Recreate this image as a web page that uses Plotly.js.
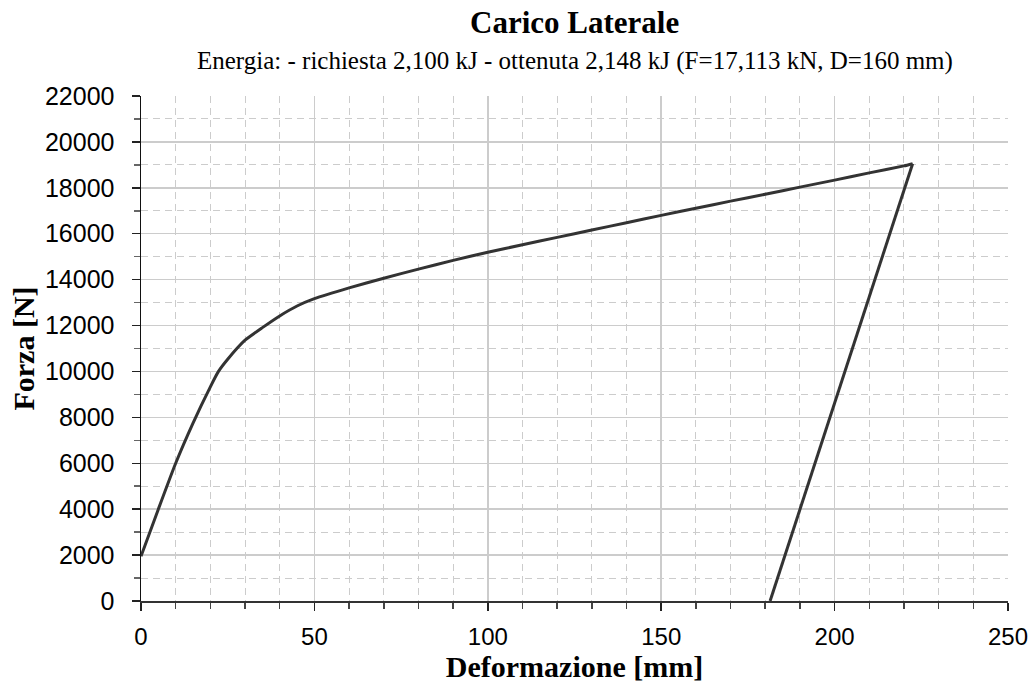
<!DOCTYPE html>
<html><head><meta charset="utf-8">
<script src="https://cdn.plot.ly/plotly-3.0.1.min.js"></script>
<style>html,body{margin:0;padding:0;background:#fff}#c{width:1036px;height:695px}</style>
</head><body><div id="c"></div>
<script>
// Loading branch (deformazione mm, forza N)
var deformazioneCarico = [0, 5, 10, 15, 20, 22.3, 25, 30, 35, 40, 45, 50, 60, 70, 80, 90, 100, 110, 120, 130, 140, 150, 160, 170, 180, 190, 200, 210, 220, 222.5];
var forzaCarico = [1950, 4000, 6000, 7750, 9330, 9990, 10530, 11360, 11910, 12420, 12850, 13170, 13640, 14060, 14460, 14840, 15190, 15520, 15840, 16160, 16480, 16800, 17110, 17420, 17720, 18030, 18335, 18650, 18955, 19050];
// Unloading branch
var deformazioneScarico = [222.5, 181.4];
var forzaScarico = [19050, 0];

var titleText = 'Carico Laterale';
var subtitleText = 'Energia: - richiesta 2,100 kJ - ottenuta 2,148 kJ (F=17,113 kN, D=160 mm)';
var xTitle = 'Deformazione [mm]';
var yTitle = 'Forza [N]';

var data = [
  {x: deformazioneCarico, y: forzaCarico, type: 'scatter', mode: 'lines',
   line: {color: '#333333', width: 3, shape: 'spline', smoothing: 0.5}, hoverinfo: 'skip'},
  {x: deformazioneScarico, y: forzaScarico, type: 'scatter', mode: 'lines',
   line: {color: '#333333', width: 3}, hoverinfo: 'skip'}
];

var gridCol = '#cccccc';
var serif = 'Liberation Serif, Times New Roman, serif';
var sans = 'Liberation Sans, Arial, sans-serif';
var layout = {
  width: 1036, height: 695,
  margin: {l: 141, r: 28, t: 96, b: 94},
  paper_bgcolor: '#ffffff', plot_bgcolor: '#ffffff',
  showlegend: false,
  xaxis: {
    range: [0, 250], dtick: 50, tick0: 0,
    showgrid: true, gridcolor: gridCol, gridwidth: 1.5,
    ticks: 'outside', ticklen: 8, tickcolor: '#222', tickwidth: 1.5,
    ticklabelstandoff: 6,
    showline: true, linecolor: '#333', linewidth: 1.5,
    zeroline: false,
    tickfont: {family: sans, size: 24, color: '#000'},
    minor: {dtick: 10, showgrid: true, gridcolor: gridCol, griddash: '7px,5px', gridwidth: 1, ticks: 'outside', ticklen: 6, tickcolor: '#444'},
    title: {text: '<b>' + xTitle + '</b>', font: {family: serif, size: 30, color: '#000'}, standoff: 4}
  },
  yaxis: {
    range: [0, 22000], dtick: 2000, tick0: 0, tickformat: 'd',
    showgrid: true, gridcolor: gridCol, gridwidth: 1.5,
    ticks: 'outside', ticklen: 8, tickcolor: '#222', tickwidth: 1.5,
    ticklabelstandoff: 12,
    showline: true, linecolor: '#111', linewidth: 1.5,
    zeroline: false,
    tickfont: {family: sans, size: 25, color: '#000'},
    minor: {dtick: 1000, showgrid: true, gridcolor: gridCol, griddash: '7px,5px', gridwidth: 1, ticks: 'outside', ticklen: 6, tickcolor: '#666'},
    title: {text: '<b>' + yTitle + '</b>', font: {family: serif, size: 30, color: '#000'}, standoff: 1}
  },
  annotations: [
    {text: '<b>' + titleText + '</b>', xref: 'paper', yref: 'paper', x: 0.5, y: 1, yshift: 74, xanchor: 'center', yanchor: 'middle', showarrow: false,
     font: {family: serif, size: 31, color: '#000'}},
    {text: subtitleText, xref: 'paper', yref: 'paper', x: 0.5, y: 1, yshift: 35, xanchor: 'center', yanchor: 'middle', showarrow: false,
     font: {family: serif, size: 25, color: '#000'}}
  ]
};
Plotly.newPlot('c', data, layout, {displayModeBar: false, staticPlot: true});
</script></body></html>
